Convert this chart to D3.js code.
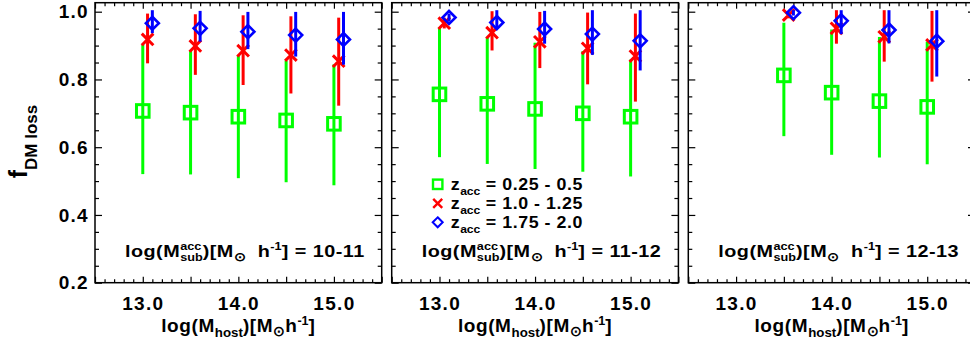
<!DOCTYPE html>
<html>
<head>
<meta charset="utf-8">
<script src="https://cdn.jsdelivr.net/npm/d3@7"></script>
<style>
  body { margin: 0; background: #fff; }
  text { font-family: "Liberation Sans", Arial, sans-serif; font-weight: bold; fill: #000; }
</style>
</head>
<body>
<div id="chart"></div>
<script>
// host halo mass bins for each panel
const hostMass = [
  [13.0, 13.5, 14.0, 14.5, 15.0],
  [13.0, 13.5, 14.0, 14.5, 15.0],
  [13.5, 14.0, 14.5, 15.0]
];
const subMassRanges = ["10-11", "11-12", "12-13"];
const zaccRanges = ["0.25 - 0.5", "1.0 - 1.25", "1.75 - 2.0"];

// z_acc = 0.25 - 0.5 (green squares)
const greenMid = [[0.707, 0.702, 0.690, 0.679, 0.669], [0.756, 0.728, 0.713, 0.700, 0.690], [0.812, 0.761, 0.736, 0.719]];
const greenLo  = [[0.525, 0.524, 0.513, 0.501, 0.492], [0.575, 0.555, 0.540, 0.532, 0.518], [0.637, 0.582, 0.574, 0.554]];
const greenHi  = [[0.898, 0.882, 0.867, 0.851, 0.840], [0.948, 0.919, 0.904, 0.879, 0.854], [0.963, 0.943, 0.921, 0.907]];
// z_acc = 1.0 - 1.25 (red crosses)
const redMid = [[0.918, 0.899, 0.885, 0.872, 0.854], [0.966, 0.938, 0.911, 0.892, 0.869], [0.990, 0.951, 0.926, 0.902]];
const redLo  = [[0.852, 0.818, 0.788, 0.763, 0.727], [0.955, 0.890, 0.838, 0.790, 0.739], [0.985, 0.910, 0.857, 0.798]];
const redHi  = [[0.990, 0.988, 0.985, 0.982, 0.978], [0.978, 0.997, 0.995, 0.993, 0.990], [0.995, 1.000, 1.000, 0.998]];
// z_acc = 1.75 - 2.0 (blue diamonds)
const blueMid = [[0.966, 0.951, 0.941, 0.931, 0.918], [0.983, 0.968, 0.949, 0.934, 0.914], [0.997, 0.973, 0.946, 0.913]];
const blueLo  = [[0.941, 0.916, 0.894, 0.872, 0.848], [0.975, 0.956, 0.910, 0.877, 0.831], [0.993, 0.938, 0.911, 0.813]];
const blueHi  = [[1.000, 0.998, 0.995, 0.995, 0.995], [0.990, 1.000, 0.998, 1.000, 1.000], [1.000, 1.000, 1.000, 1.000]];

const xTickLabels = [13.0, 14.0, 15.0];
const yTickLabels = [0.2, 0.4, 0.6, 0.8, 1.0];

const width = 970, height = 346;
const panelLeft = [95, 391.7, 688.3];
const panelW = 286.7;
const plotTop = 2.7, plotBottom = 282.7;

const svg = d3.select("#chart").append("svg")
  .attr("width", width)
  .attr("height", height);

// series styles: colour, marker, x offset (dex) so bars don't overlap
const series = [
  { mid: greenMid, lo: greenLo, hi: greenHi, color: "#00ff00", shape: "square", dx: 0 },
  { mid: redMid, lo: redLo, hi: redHi, color: "#ff0000", shape: "cross", dx: 0.05 },
  { mid: blueMid, lo: blueLo, hi: blueHi, color: "#0000ff", shape: "diamond", dx: 0.1 }
];

function marker(g, shape, cx, cy, r, sw, color) {
  if (shape === "square") {
    g.append("rect").attr("x", cx - r).attr("y", cy - r).attr("width", 2 * r).attr("height", 2 * r)
      .attr("fill", "none").attr("stroke", color).attr("stroke-width", sw);
  } else if (shape === "cross") {
    g.append("path").attr("d", `M${cx - r},${cy - r}L${cx + r},${cy + r}M${cx - r},${cy + r}L${cx + r},${cy - r}`)
      .attr("fill", "none").attr("stroke", color).attr("stroke-width", sw);
  } else {
    g.append("path").attr("d", `M${cx},${cy - r}L${cx + r},${cy}L${cx},${cy + r}L${cx - r},${cy}Z`)
      .attr("fill", "none").attr("stroke", color).attr("stroke-width", sw);
  }
}

// text with sub/superscripts: parts drawn one after another, "back" stacks on previous part
// sx widens the whole label horizontally (the original font runs wide)
function rich(g, x, yb, parts, size, anchor, spacing, sx) {
  sx = sx || 1;
  const grp = g.append("g");
  let cx = 0, prevStart = 0, prevW = 0;
  parts.forEach(p => {
    const start = p.back ? prevStart : cx;
    const t = grp.append("text")
      .attr("x", start).attr("y", p.dy || 0)
      .attr("font-size", size * (p.k || 1))
      .attr("letter-spacing", (p.k ? 0 : spacing || 0))
      .style("white-space", "pre")
      .text(p.t);
    const w = t.node().getComputedTextLength();
    cx = p.back ? prevStart + Math.max(prevW, w) : start + w;
    prevStart = start; prevW = w;
  });
  const off = anchor === "middle" ? -cx * sx / 2 : 0;
  grp.attr("transform", `translate(${x + off},${yb}) scale(${sx},1)`);
  return grp;
}

const xMinor = d3.range(125, 156).filter(d => d % 5 !== 0).map(d => d / 10);
const xMajor = d3.range(125, 156, 5).map(d => d / 10);
const yMinorVals = d3.range(4, 21).filter(d => d % 4 !== 0).map(d => d / 20);
const yTop = 1.0 + (11.7 - plotTop) / (plotBottom - 11.7) * 0.8;
const y = d3.scaleLinear().domain([0.2, yTop]).range([plotBottom, plotTop]);

panelLeft.forEach((left, pi) => {
  const x = d3.scaleLinear().domain([12.5, 15.5]).range([left, left + panelW]);
  const g = svg.append("g");

  // ticks: bottom (labels), top, left, right, all pointing inward
  const fmt = d => xTickLabels.includes(d) ? d3.format(".1f")(d) : "";
  const axes = [
    [d3.axisBottom(x).tickValues(xMajor).tickSize(-6).tickFormat(fmt).tickPadding(14), `translate(0,${plotBottom})`],
    [d3.axisBottom(x).tickValues(xMinor).tickSize(-3.5).tickFormat(""), `translate(0,${plotBottom})`],
    [d3.axisTop(x).tickValues(xMajor).tickSize(-6).tickFormat(""), `translate(0,${plotTop})`],
    [d3.axisTop(x).tickValues(xMinor).tickSize(-3.5).tickFormat(""), `translate(0,${plotTop})`],
    [d3.axisLeft(y).tickValues(yTickLabels).tickSize(-7).tickPadding(6)
      .tickFormat(pi === 0 ? d3.format(".1f") : ""), `translate(${left},0)`],
    [d3.axisLeft(y).tickValues(yMinorVals).tickSize(-4).tickFormat(""), `translate(${left},0)`],
    [d3.axisRight(y).tickValues(yTickLabels).tickSize(-7).tickFormat(""), `translate(${left + panelW},0)`],
    [d3.axisRight(y).tickValues(yMinorVals).tickSize(-4).tickFormat(""), `translate(${left + panelW},0)`]
  ];
  axes.forEach(([ax, tr]) => {
    const a = g.append("g").attr("transform", tr).call(ax.tickSizeOuter(0));
    a.select(".domain").remove();
    a.selectAll("line").attr("stroke", "#000").attr("stroke-width", 1.2);
    a.selectAll("text").attr("font-size", 19).attr("letter-spacing", 1.3)
      .attr("font-family", '"Liberation Sans", Arial, sans-serif').attr("font-weight", "bold");
  });

  g.append("rect").attr("x", left).attr("y", plotTop).attr("width", panelW).attr("height", plotBottom - plotTop)
    .attr("fill", "none").attr("stroke", "#000").attr("stroke-width", 1.5);

  // error bars + markers
  series.forEach(s => {
    hostMass[pi].forEach((m, i) => {
      const px = x(m + s.dx);
      g.append("line").attr("x1", px).attr("x2", px)
        .attr("y1", y(s.lo[pi][i])).attr("y2", y(s.hi[pi][i]))
        .attr("stroke", s.color).attr("stroke-width", 3).attr("stroke-linecap", "square");
      const r = s.shape === "square" ? 6.3 : s.shape === "cross" ? 5.8 : 6.5;
      const sw = s.shape === "diamond" ? 2.6 : 3;
      marker(g, s.shape, px, y(s.mid[pi][i]), r, sw, s.color);
    });
  });

  // sub-halo mass range label
  rich(g, left + 30, 256.7, [
    { t: "log(M" }, { t: "acc", k: 0.64, dy: -6.5 }, { t: "sub", k: 0.64, dy: 4.5, back: true },
    { t: ")[M" }, { t: "\u2299", k: 0.7, dy: 4 }, { t: "  h" }, { t: "-1", k: 0.64, dy: -6.5 },
    { t: "] = " + subMassRanges[pi] }
  ], 16.5, "start", 0.4, 1.2);

  // x axis title
  rich(g, left + panelW / 2, 332, [
    { t: "log(M" }, { t: "host", k: 0.7, dy: 5 }, { t: ")[M" }, { t: "\u2299", k: 0.72, dy: 4 },
    { t: "h" }, { t: "-1", k: 0.66, dy: -7 }, { t: "]" }
  ], 19, "middle", 0.6);
});

// legend in middle panel
zaccRanges.forEach((lab, i) => {
  const cy = 184.3 + i * 19;
  const s = series[i];
  const r = s.shape === "square" ? 4.7 : s.shape === "cross" ? 4.5 : 5;
  marker(svg, s.shape, 437.7, cy, r, s.shape === "diamond" ? 2 : 2.4, s.color);
  rich(svg, 450.7, cy + 5.5, [
    { t: "z" }, { t: "acc", k: 0.68, dy: 5 }, { t: " = " + lab }
  ], 16.5, "start", 0.5, 1.08);
});

// y axis title
const yt = svg.append("g").attr("transform", "translate(27,141.5) rotate(-90)");
rich(yt, 0, 0, [{ t: "f" }, { t: "DM loss", k: 0.68, dy: 10 }], 25, "middle", 0);
</script>
</body>
</html>
